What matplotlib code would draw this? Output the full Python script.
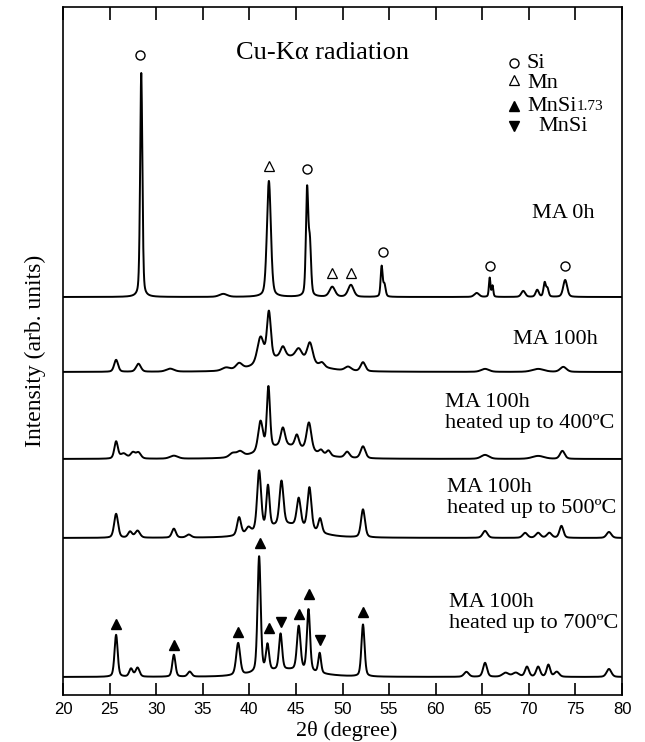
import matplotlib
matplotlib.use("Agg")
import matplotlib.pyplot as plt
import numpy as np

plt.rcParams['font.family'] = ['Liberation Serif', 'DejaVu Serif']

# x axis
x_ticks = [20, 25, 30, 35, 40, 45, 50, 55, 60, 65, 70, 75, 80]

# baselines of each pattern (arb. units, stacked)
base_0h = 398
base_100h = 323
base_400 = 236
base_500 = 157
base_700 = 18

# peaks: (2theta, height, fwhm)
peaks_0h = [
    (28.4, 224, 0.28), (37.2, 3, 1.0), (42.1, 116, 0.50),
    (46.2, 106, 0.30), (46.5, 50, 0.30), (48.9, 10, 0.7), (50.9, 12, 0.7),
    (54.2, 30, 0.25), (54.5, 12, 0.30), (64.4, 4, 0.6), (65.8, 19, 0.2),
    (66.1, 11, 0.2), (69.4, 6, 0.5), (70.9, 7, 0.4), (71.7, 14, 0.3),
    (72.0, 8, 0.3), (73.9, 17, 0.5),
]
peaks_100h = [
    (44.0, 15, 6.0), (25.7, 12, 0.5), (28.1, 8, 0.6), (31.5, 3, 1.0),
    (37.5, 3, 1.0), (38.9, 6, 0.8), (41.2, 26, 0.8), (42.1, 48, 0.5),
    (43.6, 10, 0.6), (45.3, 10, 0.8), (46.5, 20, 0.7), (47.8, 4, 0.6),
    (50.6, 4, 0.8), (52.2, 9, 0.6), (65.3, 3, 1.0), (71.0, 3, 1.5),
    (73.7, 5, 0.8),
]
peaks_400 = [
    (44.0, 13, 6.0), (25.7, 17, 0.45), (26.5, 5, 0.8), (27.5, 6, 0.6),
    (28.1, 6, 0.6), (31.9, 3, 1.0), (38.2, 4, 0.8), (39.0, 5, 0.8),
    (41.2, 30, 0.6), (42.05, 62, 0.4), (43.6, 18, 0.55), (45.1, 12, 0.5),
    (46.4, 28, 0.6), (47.7, 4, 0.5), (48.5, 5, 0.5), (50.5, 6, 0.6),
    (52.2, 12, 0.6), (65.3, 4, 1.0), (71.0, 3, 1.5), (73.6, 8, 0.6),
]
peaks_500 = [
    (44.0, 13, 6.0), (25.7, 24, 0.5), (27.2, 6, 0.5), (28.0, 7, 0.6),
    (31.9, 9, 0.5), (33.5, 3, 0.6), (38.9, 18, 0.5), (39.9, 6, 0.6),
    (41.05, 60, 0.5), (42.0, 42, 0.4), (43.45, 44, 0.5), (45.3, 28, 0.5),
    (46.45, 42, 0.5), (47.6, 14, 0.45), (52.2, 28, 0.5), (65.3, 7, 0.6),
    (69.6, 5, 0.6), (71.0, 5, 0.6), (72.2, 5, 0.6), (73.5, 12, 0.5),
    (78.6, 6, 0.6),
]
peaks_700 = [
    (44.0, 7, 7.0), (25.7, 42, 0.4), (27.3, 8, 0.45), (28.0, 9, 0.5),
    (31.9, 22, 0.4), (33.6, 5, 0.5), (38.8, 32, 0.5), (41.05, 116, 0.4),
    (41.95, 26, 0.4), (43.35, 36, 0.4), (45.3, 44, 0.45), (46.35, 62, 0.4),
    (47.55, 20, 0.35), (52.2, 52, 0.4), (63.3, 5, 0.6), (65.3, 14, 0.5),
    (67.5, 4, 0.8), (68.6, 4, 0.8), (69.8, 10, 0.5), (71.0, 10, 0.5),
    (72.1, 12, 0.45), (73.0, 5, 0.6), (78.6, 8, 0.6),
]

# phase markers (2theta, y)
si_marks = [(28.3, 640), (46.2, 526), (54.3, 443), (65.8, 429), (73.9, 429)]
mn_marks = [(42.1, 529), (48.9, 422), (50.9, 422)]
mnsi173_marks = [(25.7, 71), (31.9, 50), (38.8, 63), (41.1, 152), (42.1, 67),
                 (45.3, 81), (46.4, 101), (52.2, 83)]
mnsi_marks = [(43.4, 73), (47.6, 55)]

labels = [
    ("MA 0h", 70.3, 482),
    ("MA 100h", 68.3, 356),
    ("MA 100h\nheated up to 400ºC", 61.0, 282),
    ("MA 100h\nheated up to 500ºC", 61.2, 197),
    ("MA 100h\nheated up to 700ºC", 61.4, 82),
]


def profile(x, peaks):
    y = np.zeros_like(x)
    for c, h, w in peaks:
        d = (x - c) / w
        y += h * (0.65 * np.exp(-4 * np.log(2) * d ** 2) + 0.35 / (1 + 4 * d ** 2))
    return y


x = np.linspace(20, 80, 3001)

fig = plt.figure(figsize=(6.45, 7.42), dpi=100)
ax = fig.add_axes([63 / 645, 47 / 742, 559 / 645, 688 / 742])

for base, peaks in [(base_0h, peaks_0h), (base_100h, peaks_100h),
                    (base_400, peaks_400), (base_500, peaks_500),
                    (base_700, peaks_700)]:
    ax.plot(x, base + profile(x, peaks), color='black', lw=1.4)

ax.plot(*zip(*si_marks), 'o', ms=6.5, mfc='white', mec='black', mew=1.0, ls='none')
ax.plot(*zip(*mn_marks), '^', ms=7.5, mfc='white', mec='black', mew=0.9, ls='none')
ax.plot(*zip(*mnsi173_marks), '^', ms=7.5, color='black', ls='none')
ax.plot(*zip(*mnsi_marks), 'v', ms=6.5, color='black', ls='none')

# legend drawn by hand as in the original
ax.plot(68.4, 632, 'o', ms=6.5, mfc='white', mec='black', mew=1.0)
ax.plot(68.4, 615, '^', ms=7.5, mfc='white', mec='black', mew=0.9)
ax.plot(68.4, 589, '^', ms=7.5, color='black')
ax.plot(68.4, 569, 'v', ms=6.5, color='black')
ax.text(69.8, 632, "Si", fontsize=16, va='center')
ax.text(69.8, 612, "Mn", fontsize=16, va='center')
t = ax.text(69.8, 589, "MnSi", fontsize=16, va='center')
ax.annotate("1.73", xy=(1, 0.12), xycoords=t, fontsize=11, va='bottom', ha='left')
ax.text(71.0, 569, "MnSi", fontsize=16, va='center')

ax.text(47.8, 642, "Cu-Kα radiation", fontsize=19, ha='center', va='center')

for txt, xx, yy in labels:
    ax.text(xx, yy, txt, fontsize=16, va='center', ha='left', linespacing=1.15)

ax.set_xlim(20, 80)
ax.set_ylim(0, 688)
ax.set_xticks(x_ticks)
ax.set_yticks([])
ax.tick_params(axis='x', direction='in', length=9, width=1.2, top=True,
               labeltop=False, pad=5)
for lab in ax.get_xticklabels():
    lab.set_family('Liberation Sans')
    lab.set_fontsize(12)
for sp in ax.spines.values():
    sp.set_linewidth(1.2)

ax.set_xlabel("2θ (degree)", fontsize=16, va='center')
ax.xaxis.set_label_coords(0.508, -0.053)
ax.set_ylabel("Intensity (arb. units)", fontsize=17, labelpad=12)

plt.savefig("out.png", dpi=100)
